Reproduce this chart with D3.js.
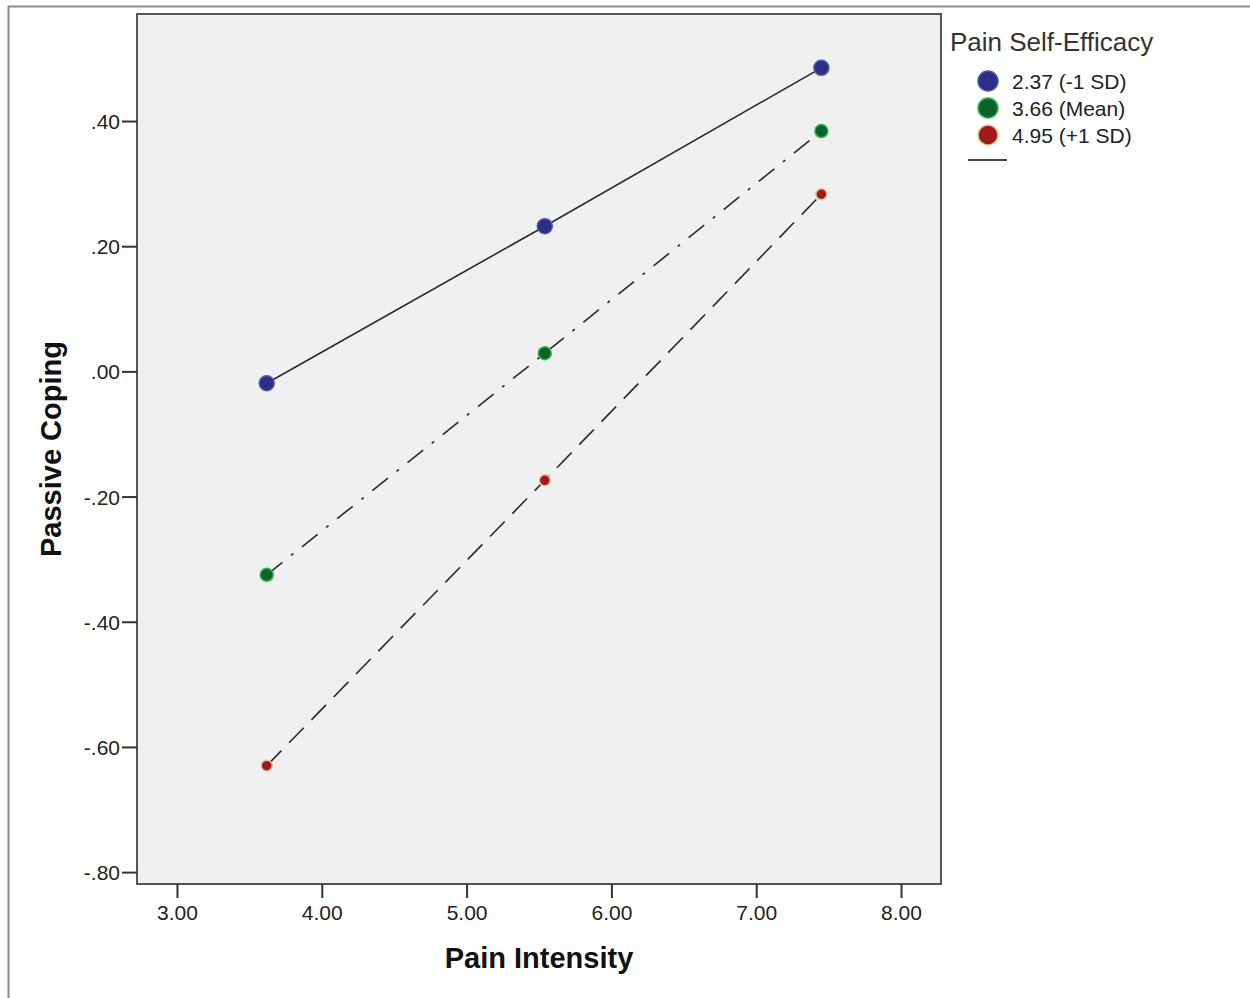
<!DOCTYPE html>
<html><head><meta charset="utf-8">
<script src="https://cdn.jsdelivr.net/npm/d3@7"></script>
<style>body{margin:0;background:#fff}svg{display:block}</style>
</head><body>
<svg id="c" width="1250" height="998"></svg>
<script>
const xValues = [3.62, 5.54, 7.45];
const seriesNames = ["2.37 (-1 SD)", "3.66 (Mean)", "4.95 (+1 SD)"];
const lowSD = [-0.019, 0.232, 0.485];
const meanSE = [-0.325, 0.029, 0.384];
const highSD = [-0.630, -0.174, 0.283];
const xTicks = [3, 4, 5, 6, 7, 8];
const yTicks = [-0.8, -0.6, -0.4, -0.2, 0, 0.2, 0.4];
const fills = ["#2c2f84", "#0c612d", "#a3191c"];
const halos = ["#4a58a8", "#2eb848", "#d8cc97"];
const dashes = [null, "20,11,3,11", "21,11"];
const radii = [7.5, 6.5, 5.5];

const svg = d3.select("#c");
const L = 137, T = 14, R = 941, B = 884;
const x = d3.scaleLinear().domain([2.724, 8.276]).range([L, R]);
const y = d3.scaleLinear().domain([-0.819, 0.571]).range([B, T]);

// outer frame
svg.append("line").attr("x1", 8).attr("x2", 1250).attr("y1", 6.5).attr("y2", 6.5).attr("stroke", "#8a8a8a").attr("stroke-width", 2);
svg.append("line").attr("x1", 8.5).attr("x2", 8.5).attr("y1", 6).attr("y2", 998).attr("stroke", "#8a8a8a").attr("stroke-width", 2);

// plot bg
svg.append("rect").attr("x", L).attr("y", T).attr("width", R - L).attr("height", B - T)
  .attr("fill", "#f0f0f0").attr("stroke", "#555").attr("stroke-width", 2);

const fmt = v => {
  const s = Math.abs(v).toFixed(2).replace(/^0\./, ".");
  return (v < -1e-9 ? "-" : "") + s;
};

// x axis
const xa = svg.append("g").attr("transform", `translate(0,${B})`)
  .call(d3.axisBottom(x).tickValues(xTicks).tickSize(14).tickFormat(d => d.toFixed(2)));
xa.select(".domain").remove();
xa.selectAll(".tick line").attr("stroke", "#333").attr("stroke-width", 2);
xa.selectAll(".tick text").attr("font-family", "Liberation Sans, Arial, sans-serif").attr("font-size", 21).attr("fill", "#222").attr("dy", 0).attr("y", 36);

// y axis
const ya = svg.append("g").attr("transform", `translate(${L},0)`)
  .call(d3.axisLeft(y).tickValues(yTicks).tickSize(15).tickFormat(fmt));
ya.select(".domain").remove();
ya.selectAll(".tick line").attr("stroke", "#333").attr("stroke-width", 2);
ya.selectAll(".tick text").attr("font-family", "Liberation Sans, Arial, sans-serif").attr("font-size", 21).attr("fill", "#222").attr("x", -17).attr("dy", "0.36em");

// axis titles
svg.append("text").attr("x", (L + R) / 2).attr("y", 968).attr("text-anchor", "middle")
  .attr("font-family", "Liberation Sans, Arial, sans-serif").attr("font-weight", "bold").attr("font-size", 29).attr("fill", "#111").text("Pain Intensity");
svg.append("text").attr("transform", `translate(61,${(T + B) / 2}) rotate(-90)`).attr("text-anchor", "middle")
  .attr("font-family", "Liberation Sans, Arial, sans-serif").attr("font-weight", "bold").attr("font-size", 29).attr("fill", "#111").text("Passive Coping");

// lines and points
const series = [lowSD, meanSE, highSD];
const line = d3.line().x((d, i) => x(xValues[i])).y(d => y(d));
series.forEach((s, k) => {
  const p = svg.append("path").attr("d", line(s)).attr("fill", "none").attr("stroke", "#2a2a2a").attr("stroke-width", 1.6);
  if (dashes[k]) p.attr("stroke-dasharray", dashes[k]);
});
series.forEach((s, k) => {
  svg.selectAll(null).data(s).enter().append("circle")
    .attr("cx", (d, i) => x(xValues[i])).attr("cy", d => y(d)).attr("r", radii[k])
    .attr("fill", fills[k]).attr("stroke", halos[k]).attr("stroke-width", 1.5);
});

// legend
const lg = svg.append("g");
lg.append("text").attr("x", 950).attr("y", 51).attr("font-family", "Liberation Sans, Arial, sans-serif").attr("font-size", 26).attr("fill", "#333").text("Pain Self-Efficacy");
seriesNames.forEach((n, k) => {
  const cy = 81 + k * 27;
  lg.append("circle").attr("cx", 988).attr("cy", cy).attr("r", 10).attr("fill", fills[k]).attr("stroke", halos[k]).attr("stroke-width", 1.5);
  lg.append("text").attr("x", 1012).attr("y", cy + 8).attr("font-family", "Liberation Sans, Arial, sans-serif").attr("font-size", 21).attr("fill", "#222").text(n);
});
lg.append("line").attr("x1", 968).attr("x2", 1007).attr("y1", 160).attr("y2", 160).attr("stroke", "#444").attr("stroke-width", 2);
</script>
</body></html>
